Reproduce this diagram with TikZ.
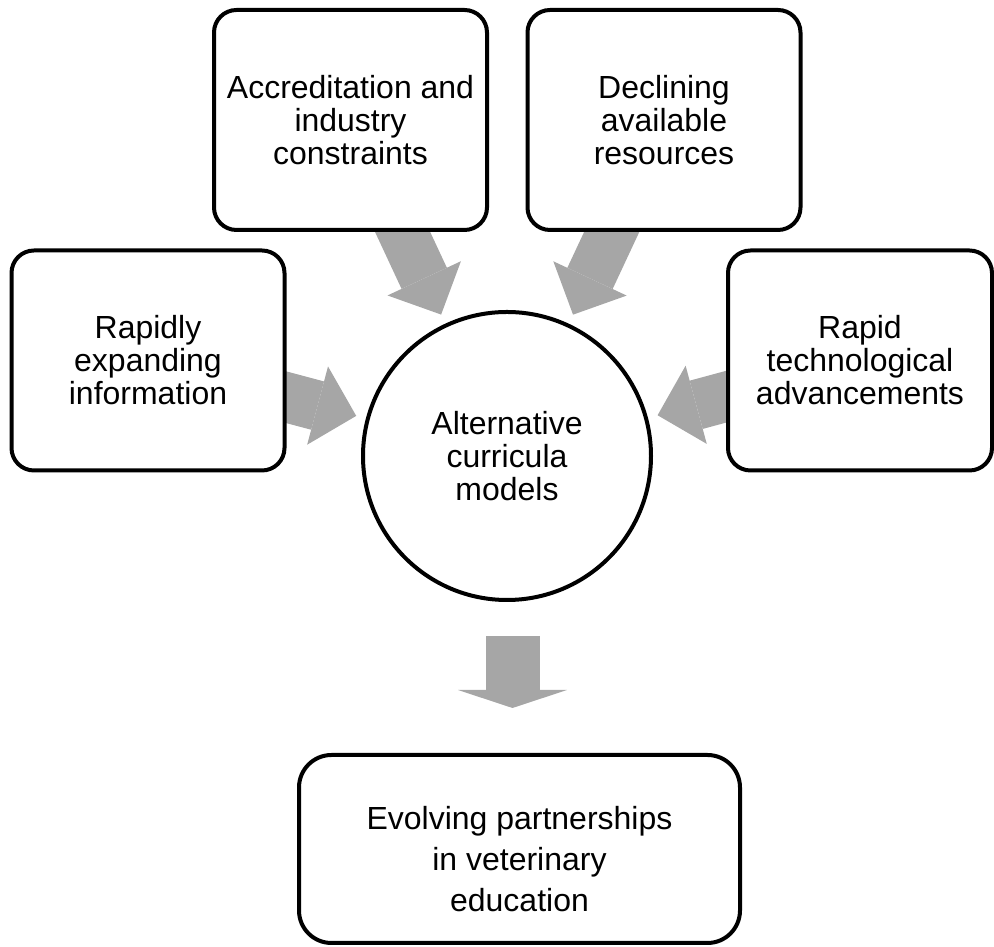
\documentclass[tikz,border=0pt]{standalone}
\usepackage{fontspec}
\setmainfont{Liberation Sans}
\usetikzlibrary{arrows.meta,backgrounds}
\definecolor{arrowgray}{rgb}{0.65,0.65,0.65}

\begin{document}
\begin{tikzpicture}[
    box/.style={draw=black, line width=0.08cm, fill=white, rounded corners=0.45cm,
        minimum width=5.46cm, minimum height=4.40cm, align=center,
        font=\fontsize{18.2}{18.8}\selectfont},
    hub/.style={circle, draw=black, line width=0.08cm, fill=white,
        minimum size=5.76cm, align=center, font=\fontsize{18.2}{18.8}\selectfont},
    inarrow/.style={draw=arrowgray, line width=1.0cm,
        -{Triangle[width=1.62cm, length=0.8cm, line width=0pt]},
        shorten <=-0.6cm, shorten >=0.2cm},
    outarrow/.style={draw=arrowgray, line width=1.08cm,
        -{Triangle[width=2.18cm, length=0.36cm, line width=0pt]},
        shorten <=0.68cm, shorten >=0.90cm}
]
        % frame
        \useasboundingbox (0,0) rectangle (19.88,18.94);
        % causes
        \node[box] (acc) at (7.01,16.54) {Accreditation and\\industry\\constraints};
        \node[box] (res) at (13.28,16.54) {Declining\\available\\resources};
        \node[box] (info) at (2.96,11.73) {Rapidly\\expanding\\information};
        \node[box, minimum width=5.28cm] (tech) at (17.20,11.73) {Rapid\\technological\\advancements};
        % centre
        \node[hub] (alt) at (10.14,9.82) {Alternative\\curricula\\models};
        % outcome
        \node[box, minimum width=8.82cm, minimum height=3.76cm, rounded corners=0.65cm] (edu) at (10.39,1.96) {};
        \node[align=center, font=\fontsize{18.2}{23.3}\selectfont] (edutxt) at (10.39,1.76)
            {Evolving partnerships\\in veterinary\\education};
        \coordinate (dcol) at (10.25,0);
        % arrows
        \begin{scope}[on background layer]
            \draw[inarrow] (acc) -- (alt);
            \draw[inarrow] (res) -- (alt);
            \draw[inarrow] (info) -- (alt);
            \draw[inarrow] (tech) -- (alt);
            \draw[outarrow] (alt.south -| dcol) -- (edu.north -| dcol);
        \end{scope}
    \end{tikzpicture}
\end{document}
